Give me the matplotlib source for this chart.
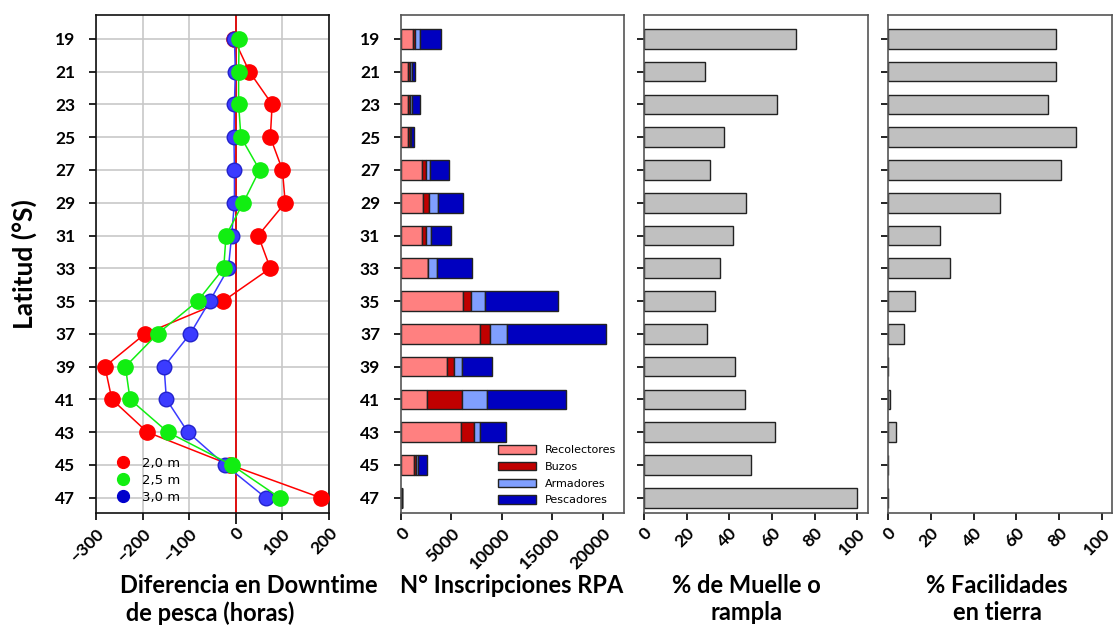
import numpy as np
import matplotlib
matplotlib.use("Agg")
import matplotlib.pyplot as plt
from matplotlib.patches import Patch
from matplotlib.lines import Line2D

plt.rcParams['font.family'] = ['Lato', 'DejaVu Sans']

lat = [19, 21, 23, 25, 27, 29, 31, 33, 35, 37, 39, 41, 43, 45, 47]

# downtime difference (hours) per wave height threshold
dt_20 = [-4, 29, 78, 74, 100, 106, 48, 74, -27, -195, -281, -266, -190, -12, 182]
dt_25 = [7, 6, 6, 11, 51, 16, -21, -26, -82, -168, -237, -227, -146, -9, 94]
dt_30 = [-3, -1, -3, -4, -3, -3, -9, -16, -56, -98, -154, -149, -103, -23, 64]

# RPA registrations (cumulative ends)
recolectores = [1184, 724, 691, 658, 2072, 2138, 2039, 2664, 6184, 7796, 4507, 2566, 5954, 1250, 60]
buzos_end = [1414, 921, 855, 855, 2434, 2796, 2467, 2700, 6908, 8783, 5230, 6053, 7204, 1447, 70]
armadores_end = [1875, 1118, 1086, 987, 2895, 3651, 2993, 3553, 8322, 10461, 6020, 8553, 7829, 1678, 80]
pescadores_end = [3947, 1414, 1842, 1283, 4803, 6184, 4967, 7072, 15526, 20263, 8980, 16349, 10362, 2599, 100]

muelle = [71.4, 28.6, 62.4, 37.6, 30.8, 47.7, 41.5, 35.4, 33.5, 29.7, 42.7, 47.3, 61.5, 50.1, 100]
facilidades = [78.5, 78.5, 74.9, 87.7, 80.8, 52.3, 24.2, 29.0, 12.6, 7.5, 0, 0.9, 3.7, 0, 0]

buzos = np.array(buzos_end) - np.array(recolectores)
armadores = np.array(armadores_end) - np.array(buzos_end)
pescadores = np.array(pescadores_end) - np.array(armadores_end)

fig = plt.figure(figsize=(11.13, 6.29), dpi=100)
bot, h = 0.184, 0.792
ax1 = fig.add_axes([0.0863, bot, 0.2093, h])
ax2 = fig.add_axes([0.3603, bot, 0.2004, h])
ax3 = fig.add_axes([0.5786, bot, 0.2013, h])
ax4 = fig.add_axes([0.7978, bot, 0.2013, h])

ylim = (47.95, 17.55)
tick_font = dict(fontsize=12.5, fontweight='bold')

# panel 1: downtime
ax1.grid(True, color='#c8c8c8', linewidth=1.2, zorder=0)
ax1.axvline(0, color='#e00000', linewidth=1.3, zorder=2)
ax1.plot(dt_20, lat, '-o', color='#ff0000', ms=11, lw=1.1, zorder=3)
ax1.plot(dt_25, lat, '-o', color='#11ee11', ms=11, lw=1.1, zorder=4)
ax1.plot(dt_30, lat, '-o', color='#3b3bff', mec='#2222cc', ms=10.5, lw=1.1, zorder=3)
ax1.set_xlim(-300, 200)
ax1.set_xticks([-300, -200, -100, 0, 100, 200])
handles = [Line2D([], [], marker='o', ls='', color=c, ms=8.5) for c in ['#ff0000', '#11ee11', '#0000cc']]
ax1.legend(handles, ['2,0 m', '2,5 m', '3,0 m'], loc='lower left', frameon=False,
           handletextpad=0.4, labelspacing=0.3, borderaxespad=0.3,
           bbox_to_anchor=(0.02, 0.0), prop={'family': 'DejaVu Sans', 'size': 9.5})

# panel 2: stacked RPA bars
bh = 1.2
ec = '#222222'
ax2.barh(lat, recolectores, height=bh, color='#ff8080', edgecolor=ec, lw=1)
ax2.barh(lat, buzos, left=recolectores, height=bh, color='#c00000', edgecolor=ec, lw=1)
ax2.barh(lat, armadores, left=buzos_end, height=bh, color='#809fff', edgecolor=ec, lw=1)
ax2.barh(lat, pescadores, left=armadores_end, height=bh, color='#0000c0', edgecolor=ec, lw=1)
ax2.set_xlim(0, 22100)
ax2.set_xticks([0, 5000, 10000, 15000, 20000])
leg_h = [Patch(facecolor=c, edgecolor=ec) for c in ['#ff8080', '#c00000', '#809fff', '#0000c0']]
ax2.legend(leg_h, ['Recolectores', 'Buzos', 'Armadores', 'Pescadores'], loc='lower right',
           frameon=False, prop={'family': 'DejaVu Sans', 'size': 8},
           handlelength=3.4, handleheight=0.8, labelspacing=0.6, borderaxespad=0.3)

# panels 3 and 4: gray bars
ax3.barh(lat, muelle, height=bh, color='#c0c0c0', edgecolor=ec, lw=1)
ax3.set_xlim(0, 105)
ax4.barh(lat, facilidades, height=bh, color='#c0c0c0', edgecolor=ec, lw=1)
ax4.set_xlim(0, 104.6)
for ax in (ax3, ax4):
    ax.set_xticks([0, 20, 40, 60, 80, 100])

for i, ax in enumerate((ax1, ax2, ax3, ax4)):
    ax.set_ylim(*ylim)
    ax.set_yticks(lat)
    ax.tick_params(axis='both', direction='out', length=5, width=1.2)
    ax.set_axisbelow(True)
    for s in ax.spines.values():
        s.set_color('#111111' if i == 0 else '#555555')
        s.set_linewidth(1.2)
    if i < 2:
        ax.set_yticklabels([str(v) for v in lat], **tick_font)
        ax.tick_params(axis='y', pad=10)
    else:
        ax.set_yticklabels([])
    for t in ax.get_xticklabels():
        t.set_rotation(45)
        t.set_ha('right')
        t.set_rotation_mode('anchor')
        t.set_fontsize(12.5)
        t.set_fontweight('bold')

# red tick at zero, continuing the zero line
ax1.get_xticklines()[6].set_color('#e00000')
ax1.get_xticklines()[6].set_markersize(8)

fig.text(0.022, 0.58, 'Latitud (°S)', rotation=90, ha='center', va='center',
         fontsize=19, fontweight='bold')

lab = dict(fontsize=17, fontweight='bold', va='top')
fig.text(120 / 1113, 1 - 574 / 629, 'Diferencia en Downtime\n de pesca (horas)', ha='left',
         linespacing=1.2, **lab)
fig.text(512 / 1113, 1 - 574 / 629, 'N° Inscripciones RPA', ha='center', **lab)
fig.text(746 / 1113, 1 - 574 / 629, '% de Muelle o\nrampla', ha='center', linespacing=1.2, **lab)
fig.text(997 / 1113, 1 - 574 / 629, '% Facilidades\nen tierra', ha='center', linespacing=1.2, **lab)

fig.savefig('out.png', dpi=100)
